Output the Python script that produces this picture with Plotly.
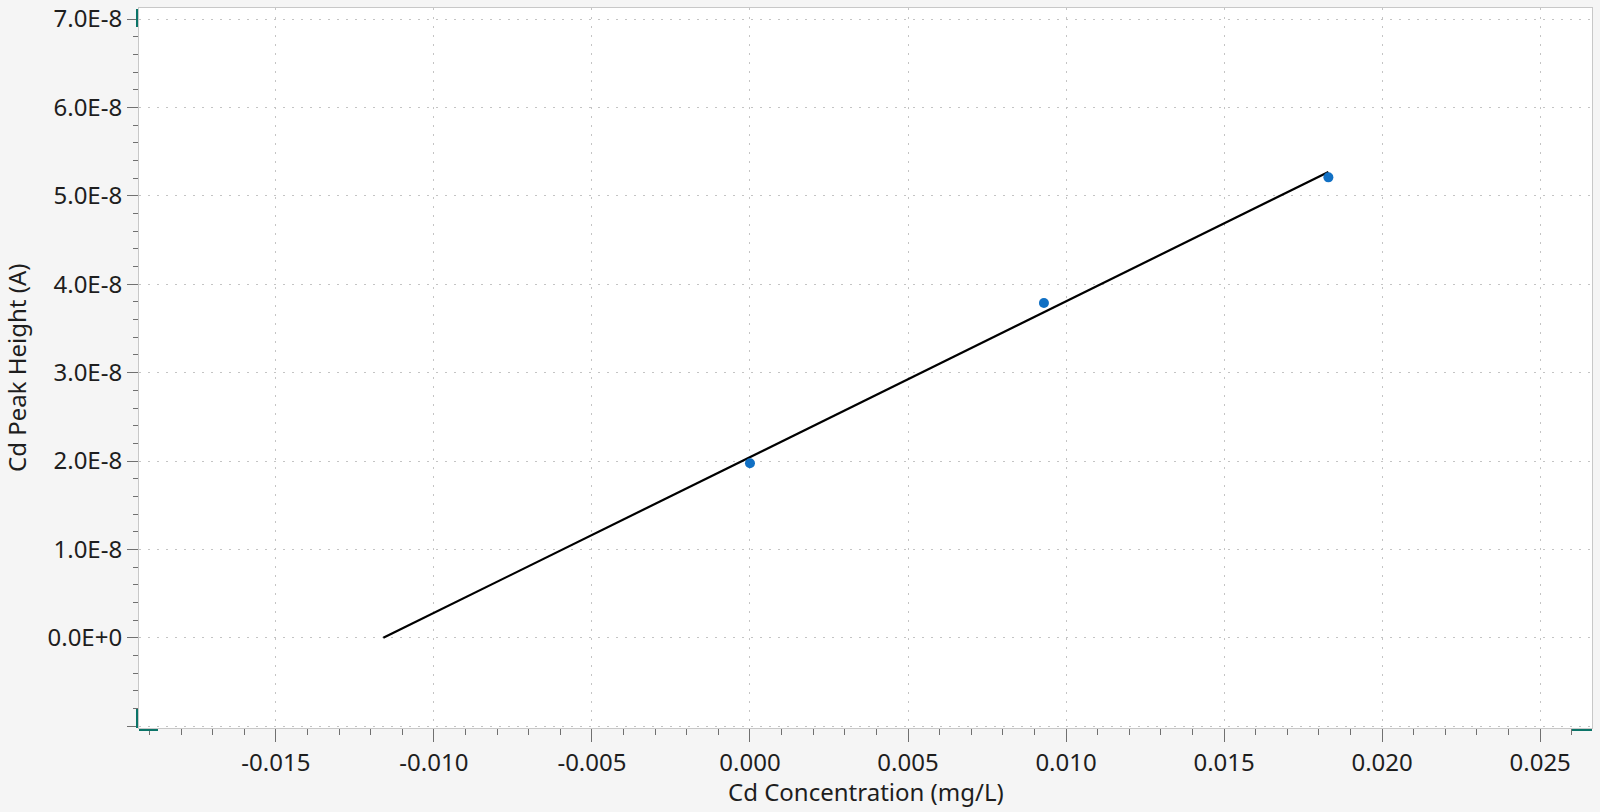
import plotly.graph_objects as go

# calibration standards
conc = [0.0, 0.0093, 0.0183]
peak_height = [1.975e-8, 3.787e-8, 5.209e-8]

# fitted calibration line (extrapolated back to zero signal)
fit_conc = [-0.0116, 0.0183]
fit_height = [0.0, 5.27e-8]

x_ticks = [-0.015, -0.010, -0.005, 0.000, 0.005, 0.010, 0.015, 0.020, 0.025]
x_tick_labels = ["-0.015", "-0.010", "-0.005", "0.000", "0.005", "0.010", "0.015", "0.020", "0.025"]
y_ticks = [-1e-8, 0.0, 1e-8, 2e-8, 3e-8, 4e-8, 5e-8, 6e-8, 7e-8]
y_tick_labels = ["", "0.0E+0", "1.0E-8", "2.0E-8", "3.0E-8", "4.0E-8", "5.0E-8", "6.0E-8", "7.0E-8"]

x_title = "Cd Concentration (mg/L)"
y_title = "Cd Peak Height (A)"

FONT = "Noto Sans"
TEXT = "#1e1e1e"
GRID = "#c4c4c4"
AXIS = "#c8c8c8"
TICK = "#707070"
HANDLE = "#0b7468"
FS = 24

fig = go.Figure()

fig.add_trace(go.Scatter(
    x=fit_conc, y=fit_height, mode="lines",
    line=dict(color="black", width=2.2),
    showlegend=False, hoverinfo="skip",
))
fig.add_trace(go.Scatter(
    x=conc, y=peak_height, mode="markers",
    marker=dict(color="#1170c4", size=10),
    showlegend=False,
))

fig.update_xaxes(
    range=[-0.01933, 0.02664],
    tickvals=x_ticks, ticktext=x_tick_labels,
    ticks="outside", ticklen=13, tickwidth=1, tickcolor=TICK,
    minor=dict(dtick=0.001, ticks="outside", ticklen=6, tickcolor=TICK, showgrid=False),
    showgrid=True, gridcolor=GRID, griddash="2px,7px", gridwidth=1,
    showline=True, linecolor=AXIS, linewidth=1, mirror=True,
    zeroline=False, automargin=False, ticklabeloverflow="allow",
    tickfont=dict(family=FONT, size=FS, color=TEXT),
)
fig.update_yaxes(
    range=[-1.02e-8, 7.125e-8],
    tickvals=y_ticks, ticktext=y_tick_labels,
    ticks="outside", ticklen=11, tickwidth=1, tickcolor=TICK,
    minor=dict(dtick=0.2e-8, ticks="outside", ticklen=5, tickcolor=TICK, showgrid=False),
    showgrid=True, gridcolor=GRID, griddash="2px,7px", gridwidth=1,
    showline=True, linecolor=AXIS, linewidth=1, mirror=True,
    zeroline=False, automargin=False, ticklabeloverflow="allow",
    tickfont=dict(family=FONT, size=FS, color=TEXT),
)

# axis titles placed as annotations so they sit tight to the tick labels
fig.add_annotation(
    text=x_title, xref="x domain", yref="y domain", x=0.5, y=0,
    xanchor="center", yanchor="middle", yshift=-63, showarrow=False,
    font=dict(family=FONT, size=FS, color=TEXT),
)
fig.add_annotation(
    text=y_title, xref="x domain", yref="y domain", x=0, y=0.5,
    xanchor="center", yanchor="middle", xshift=-123, textangle=-90, showarrow=False,
    font=dict(family=FONT, size=FS, color=TEXT),
)

# small teal range handles at the axis ends
handles = [
    dict(xref="x domain", yref="y domain", xsizemode="pixel", ysizemode="pixel",
         xanchor=0, yanchor=1, x0=-3, x1=-1, y0=-1, y1=-19),
    dict(xref="x domain", yref="y domain", xsizemode="pixel", ysizemode="pixel",
         xanchor=0, yanchor=0, x0=-3, x1=-1, y0=0, y1=19),
    dict(xref="x domain", yref="y domain", xsizemode="pixel", ysizemode="pixel",
         xanchor=0, yanchor=0, x0=0, x1=19, y0=-1, y1=-3),
    dict(xref="x domain", yref="y domain", xsizemode="pixel", ysizemode="pixel",
         xanchor=1, yanchor=0, x0=-20, x1=0, y0=-1, y1=-3),
]
for h in handles:
    fig.add_shape(type="rect", fillcolor=HANDLE, line=dict(width=0), layer="above", **h)

fig.update_layout(
    width=1600, height=812,
    margin=dict(l=139, r=8, t=8, b=84),
    paper_bgcolor="#f5f5f5",
    plot_bgcolor="white",
    font=dict(family=FONT, color=TEXT),
)

# drop the browser's default body margin so the figure fills the window exactly
fig.write_html(
    "out.html",
    config={"displayModeBar": False},
    post_script="document.body.style.margin='0';document.body.style.background='#f5f5f5';",
)
